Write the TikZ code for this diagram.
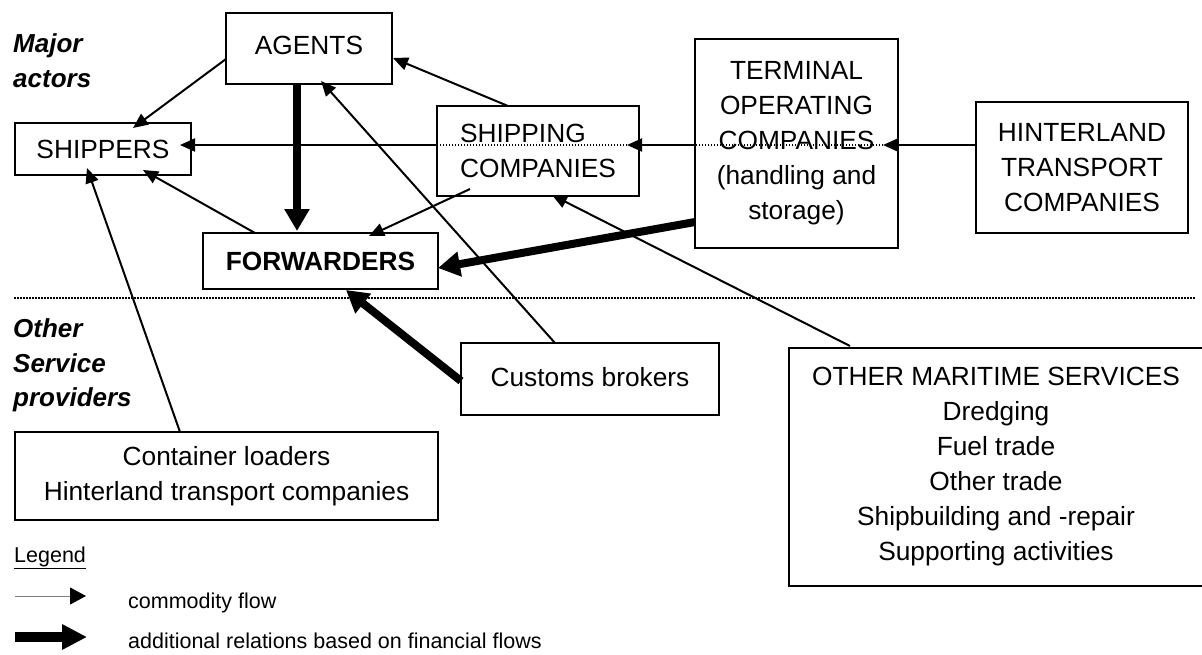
\documentclass[tikz,border=0pt]{standalone}
\usepackage{fontspec}
\setmainfont{Liberation Sans}
\usetikzlibrary{arrows.meta}
\begin{document}
\begin{tikzpicture}[x=1pt,y=-1pt,
  box/.style={draw, line width=2.5pt, fill=white, inner sep=0pt, outer sep=0pt,
    font=\fontsize{26.3}{35}\selectfont},
  flowarrow/.style={line width=2pt, -{Triangle[length=15pt,width=13pt]}},
  finarrow/.style={line width=8pt, -{Triangle[length=22pt,width=24pt]}},
  dotline/.style={line width=1.5pt, dash pattern=on 1.5pt off 1.5pt},
  lbl/.style={font=\fontsize{26}{35}\selectfont\bfseries\itshape, inner sep=0pt, anchor=base west},
  leg/.style={font=\fontsize{21.5}{26}\selectfont, inner sep=0pt, anchor=base west}
]
\useasboundingbox (0,0) rectangle (1202,654);

% separator
\coordinate (sepL) at (14,298);
\coordinate (sepR) at (1195,298);
\draw[dotline] (sepL) -- (sepR);

% side labels
\node[lbl] (major) at (13,52) {Major};
\node[lbl] (actors) at (13,87) {actors};
\node[lbl] (other) at (13,337) {Other};
\node[lbl] (service) at (13,372) {Service};
\node[lbl] (providers) at (13,406) {providers};

% boxes
\node[box, minimum width=166pt, minimum height=71pt] (agents) at (309,48.5) {\raisebox{5.5pt}{AGENTS}};
\node[box, minimum width=176pt, minimum height=52pt] (shippers) at (103,149) {\raisebox{-4.5pt}{SHIPPERS}};
\node[box, minimum width=235pt, minimum height=56pt, font=\fontsize{26.3}{35}\selectfont\bfseries] (forwarders) at (320.5,261) {FORWARDERS};
\node[box, minimum width=202pt, minimum height=90pt, align=left] (shipping) at (538,151) {SHIPPING\\COMPANIES};
\node[box, minimum width=203pt, minimum height=209pt, align=center] (terminal) at (796.5,143.5) {TERMINAL\\OPERATING\\COMPANIES\\(handling and\\storage)};
\node[box, minimum width=212pt, minimum height=131pt, align=center] (hinterland) at (1082,167.5) {HINTERLAND\\TRANSPORT\\COMPANIES};
\node[box, minimum width=258pt, minimum height=72pt] (customs) at (590,379) {\raisebox{4pt}{Customs brokers}};
\node[box, minimum width=423pt, minimum height=88pt, align=center] (container) at (226.5,476) {Container loaders\\Hinterland transport companies};
\node[box, minimum width=414pt, minimum height=238pt, align=center] (maritime) at (996,467) {OTHER MARITIME SERVICES\\Dredging\\Fuel trade\\Other trade\\Shipbuilding and -repair\\Supporting activities};

% commodity flows
\draw[flowarrow] ([shift={(-83,10.5)}]agents.center) -- ([shift={(30,-21)}]shippers.center);
\draw[flowarrow] ([shift={(-30,-45)}]shipping.center) -- ([shift={(84,9.5)}]agents.center);
\draw[flowarrow] ([shift={(-35,-36)}]customs.center) -- ([shift={(12,32.5)}]agents.center);
\draw[flowarrow] ([shift={(-65.5,-28)}]forwarders.center) -- ([shift={(40,21)}]shippers.center);
\draw[flowarrow] ([shift={(-46.5,-44)}]container.center) -- ([shift={(-16,19)}]shippers.center);
\draw[flowarrow] ([shift={(-68,38)}]shipping.center) -- ([shift={(48.5,-25)}]forwarders.center);
\draw[flowarrow] ([shift={(-146,-121)}]maritime.center) -- ([shift={(14,44)}]shipping.center);

% horizontal chain
\draw[flowarrow] ([shift={(-106,-22.5)}]hinterland.center) -- ([shift={(86.5,1.5)}]terminal.center);
\draw[dotline] ([shift={(86.5,1.5)}]terminal.center) -- ([shift={(-101.5,1.5)}]terminal.center);
\draw[flowarrow] ([shift={(-101.5,1.5)}]terminal.center) -- ([shift={(89,-6)}]shipping.center);
\draw[dotline] ([shift={(89,-6)}]shipping.center) -- ([shift={(-101,-6)}]shipping.center);
\draw[flowarrow] ([shift={(-101,-6)}]shipping.center) -- ([shift={(77,-4)}]shippers.center);

% financial flows
\draw[finarrow] ([shift={(-12,35.5)}]agents.center) -- ([shift={(-23.5,-30)}]forwarders.center);
\draw[finarrow] ([shift={(-101.5,78.5)}]terminal.center) -- ([shift={(117.5,7)}]forwarders.center);
\draw[finarrow] ([shift={(-129,2)}]customs.center) -- ([shift={(25.5,29)}]forwarders.center);

% legend
\node[leg] (legend) at (14,562) {\underline{Legend}};
\coordinate (l1a) at (15,596);
\coordinate (l1b) at (86,596);
\draw[gray, line width=1pt, -{Triangle[length=16pt,width=17pt,color=black]}] (l1a) -- (l1b);
\node[leg] (cflow) at (128,608) {commodity flow};
\coordinate (l2a) at (15,637);
\coordinate (l2b) at (87,637);
\draw[line width=10pt, -{Triangle[length=25pt,width=24pt]}] (l2a) -- (l2b);
\node[leg] (fflow) at (128,648) {additional relations based on financial flows};
\end{tikzpicture}
\end{document}
